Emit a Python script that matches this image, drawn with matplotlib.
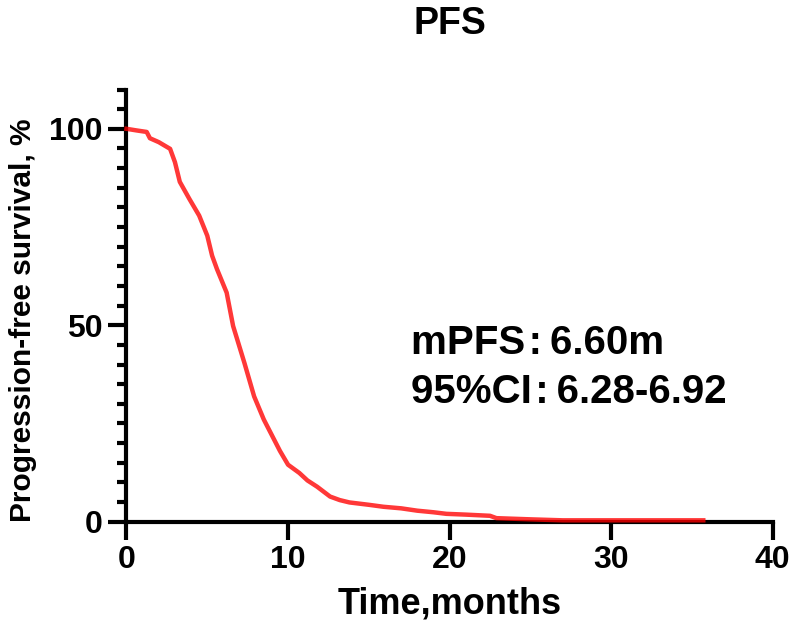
import matplotlib
matplotlib.use('Agg')
import matplotlib.pyplot as plt
from matplotlib.ticker import MultipleLocator

plt.rcParams['font.family'] = ['Liberation Sans', 'DejaVu Sans']
plt.rcParams['font.weight'] = 'bold'

# Kaplan-Meier PFS curve (months, %)
months = [0, 0.6, 1.25, 1.45, 2.0, 2.7, 3.0, 3.3, 3.9, 4.5, 5.0, 5.3, 5.6, 6.2,
          6.6, 7.3, 7.9, 8.5, 9.0, 9.5, 10.0, 10.7, 11.2, 11.8, 12.6, 13.2,
          13.8, 15.0, 15.9, 17.0, 18.0, 19.0, 19.8, 21.0, 22.5, 22.9, 25.0,
          27.0, 35.7]
survival = [100, 99.6, 99.2, 97.6, 96.6, 94.9, 91.5, 86.5, 82.1, 77.9, 72.8,
            67.7, 64.3, 58.3, 49.8, 40.4, 31.9, 26.0, 22.0, 18.0, 14.5, 12.4,
            10.5, 8.9, 6.4, 5.5, 4.9, 4.3, 3.8, 3.4, 2.8, 2.4, 2.0, 1.8, 1.5,
            0.9, 0.6, 0.35, 0.35]

x_ticks = [0, 10, 20, 30, 40]
y_ticks = [0, 50, 100]
median_text = 'mPFS\u200a:\u20096.60m'
ci_text = '95%CI\u200a:\u20096.28-6.92'

fig = plt.figure(figsize=(7.92, 6.38), dpi=100)
ax = fig.add_axes([0.1597, 0.1823, 0.816, 0.6774])

ax.plot(months, survival, color='red', alpha=0.78, linewidth=3.2,
        clip_on=False, zorder=3)

ax.set_xlim(0, 40)
ax.set_ylim(0, 110)
ax.set_xticks(x_ticks)
ax.set_yticks(y_ticks)
ax.yaxis.set_minor_locator(MultipleLocator(5))

for side in ['top', 'right']:
    ax.spines[side].set_visible(False)
for side in ['left', 'bottom']:
    ax.spines[side].set_linewidth(3)
    ax.spines[side].set_zorder(2)

ax.tick_params(which='major', length=13, width=3, labelsize=23, pad=4)
ax.tick_params(which='minor', length=6.5, width=3)
for lab in ax.get_xticklabels() + ax.get_yticklabels():
    lab.set_fontweight('bold')

ax.set_xlabel('Time,months', fontsize=26, fontweight='bold', labelpad=8)
ax.set_ylabel('Progression-free survival, %', fontsize=21.5, fontweight='bold')
ax.yaxis.set_label_coords(-0.138, 0.465)
ax.set_title('PFS', fontsize=27, fontweight='bold', pad=40)

ax.text(17.6, 42.6, median_text, fontsize=29, fontweight='bold', va='baseline')
ax.text(17.6, 30.3, ci_text, fontsize=29, fontweight='bold', va='baseline')

fig.savefig('out.png', dpi=100)
